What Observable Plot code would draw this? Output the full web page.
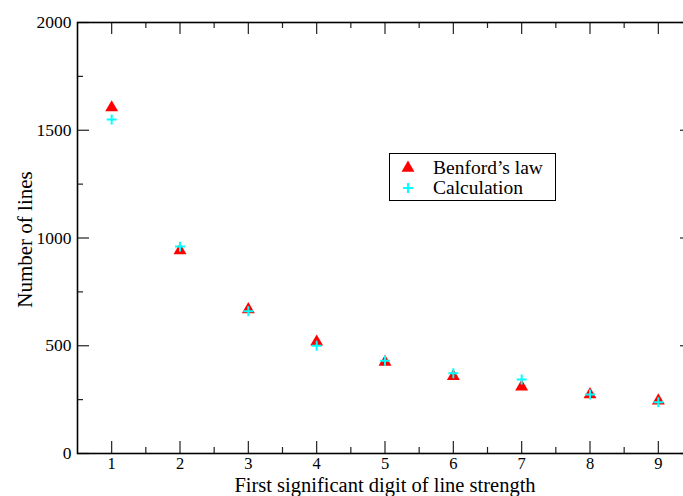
<!DOCTYPE html>
<html><head><meta charset="utf-8">
<script src="https://cdn.jsdelivr.net/npm/d3@7"></script>
<script src="https://cdn.jsdelivr.net/npm/@observablehq/plot@0.6"></script>
<style>
html,body{margin:0;padding:0;background:#fff;overflow:hidden;}
#wrap{position:relative;width:683px;height:496px;overflow:hidden;}
#wrap svg.plot{position:absolute;left:0;top:0;max-width:none !important;}
#legend{position:absolute;left:389px;top:153px;}
</style></head><body><div id="wrap"></div>
<script>
const digits = [1, 2, 3, 4, 5, 6, 7, 8, 9];
const benford = [1605, 942, 668, 518, 424, 358, 310, 274, 245];
const calculation = [1550, 960, 660, 500, 430, 372, 343, 274, 238];
const seriesNames = ["Benford\u2019s law", "Calculation"];
const xMinor = [1.5, 2.5, 3.5, 4.5, 5.5, 6.5, 7.5, 8.5];
const yMajor = [0, 500, 1000, 1500, 2000];
const yMinor = [250, 750, 1250, 1750];
const xTitle = "First significant digit of line strength";
const yTitle = "Number of lines";

const W = 692, H = 496, mL = 77, mR = 0, mT = 22, mB = 43;
const pw = W - mL - mR, ph = H - mT - mB;
const major = 12, minor = 6;
const font = "'Liberation Serif', 'Times New Roman', serif";
const triR = 4.8, plusR = 3.3;

const bData = digits.map((d, i) => ({digit: d, value: benford[i]}));
const cData = digits.map((d, i) => ({digit: d, value: calculation[i]}));

const tickStyle = {stroke: "#222", strokeWidth: 1.2};
const chart = Plot.plot({
  width: W, height: H,
  marginLeft: mL, marginRight: mR, marginTop: mT, marginBottom: mB,
  style: {fontFamily: font, background: "#fff", color: "#000", maxWidth: "none"},
  x: {domain: [0.5, 9.5]},
  y: {domain: [0, 2000]},
  marks: [
    // inward ticks
    Plot.ruleX(digits, {...tickStyle, insetTop: ph - major}),
    Plot.ruleX(xMinor, {...tickStyle, insetTop: ph - minor}),
    Plot.ruleX(digits, {...tickStyle, insetBottom: ph - major}),
    Plot.ruleX(xMinor, {...tickStyle, insetBottom: ph - minor}),
    Plot.ruleY(yMajor, {...tickStyle, insetRight: pw - major}),
    Plot.ruleY(yMinor, {...tickStyle, insetRight: pw - minor}),
    Plot.ruleY(yMajor, {...tickStyle, insetLeft: pw - major}),
    Plot.ruleY(yMinor, {...tickStyle, insetLeft: pw - minor}),
    Plot.frame({stroke: "#000", strokeWidth: 1.6}),
    // labels
    Plot.axisX(digits, {anchor: "bottom", tickSize: 0, tickPadding: 3.5, fontSize: 16.5, fontFamily: font, label: null, tickFormat: d => String(d)}),
    Plot.axisY(yMajor, {anchor: "left", tickSize: 0, tickPadding: 6, fontSize: 17.5, fontFamily: font, label: null, tickFormat: d => String(d)}),
    Plot.text([xTitle], {frameAnchor: "bottom", lineAnchor: "middle", textAnchor: "middle", dy: 32.3, fontSize: 20.5, fontFamily: font}),
    Plot.text([yTitle], {frameAnchor: "left", lineAnchor: "middle", textAnchor: "middle", rotate: -90, dx: -52, dy: 1.5, fontSize: 21, fontFamily: font}),
    // data
    Plot.dot(bData, {x: "digit", y: "value", symbol: "triangle", r: triR, fill: "#ff0000", stroke: "none"}),
    Plot.dot(cData, {x: "digit", y: "value", symbol: "plus", r: plusR, stroke: "#00ffff", strokeWidth: 2})
  ]
});
const wrap = document.getElementById("wrap");
wrap.appendChild(chart);

// legend
const lw = 167, lh = 48;
const ns = "http://www.w3.org/2000/svg";
const lg = document.createElementNS(ns, "svg");
lg.setAttribute("id", "legend");
lg.setAttribute("width", lw); lg.setAttribute("height", lh);
lg.style.fontFamily = font;
const box = document.createElementNS(ns, "rect");
box.setAttribute("x", 0.5); box.setAttribute("y", 0.5);
box.setAttribute("width", lw - 1); box.setAttribute("height", lh - 1);
box.setAttribute("fill", "#fff"); box.setAttribute("stroke", "#000"); box.setAttribute("stroke-width", 1);
lg.appendChild(box);
const tri = document.createElementNS(ns, "path");
tri.setAttribute("d", d3.symbol(d3.symbolTriangle, Math.PI * triR * triR)());
tri.setAttribute("transform", "translate(19,15)");
tri.setAttribute("fill", "#ff0000");
lg.appendChild(tri);
const plus = document.createElementNS(ns, "path");
plus.setAttribute("d", d3.symbol(d3.symbolPlus, Math.PI * plusR * plusR)());
plus.setAttribute("transform", "translate(19,35)");
plus.setAttribute("fill", "none"); plus.setAttribute("stroke", "#00ffff"); plus.setAttribute("stroke-width", 2);
lg.appendChild(plus);
seriesNames.forEach((name, i) => {
  const t = document.createElementNS(ns, "text");
  t.setAttribute("x", 44); t.setAttribute("y", i === 0 ? 21 : 41);
  t.setAttribute("font-size", 19.5);
  t.textContent = name;
  lg.appendChild(t);
});
wrap.appendChild(lg);
</script>
</body></html>
